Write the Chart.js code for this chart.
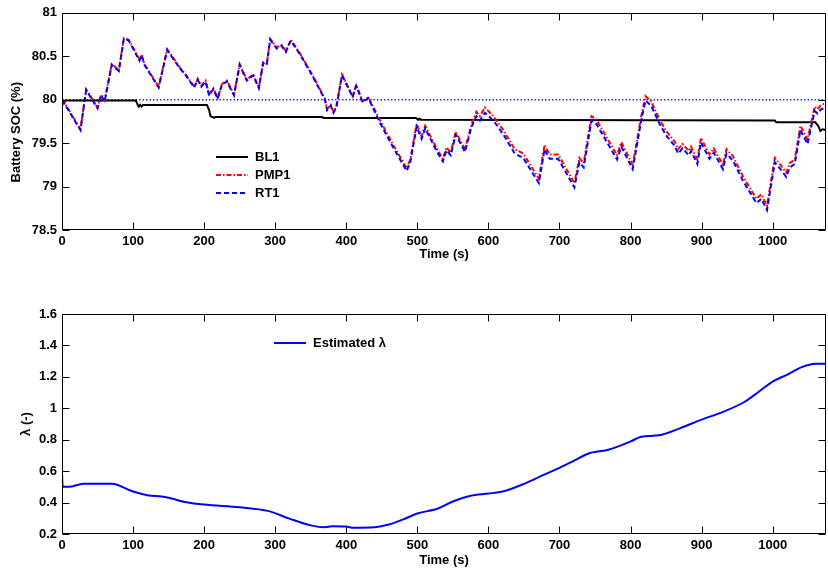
<!DOCTYPE html>
<html>
<head>
<meta charset="utf-8">
<script src="https://cdn.jsdelivr.net/npm/chart.js@4/dist/chart.umd.min.js"></script>
<style>
  body { margin: 0; background: #fff; }
  #wrap { position: relative; width: 828px; height: 572px; }
  #soc-canvas { position: absolute; left: 0; top: 0; }
  #lambda-canvas { position: absolute; left: 0; top: 290px; }
</style>
</head>
<body>
<div id="wrap">
  <canvas id="soc-canvas" width="828" height="290"></canvas>
  <canvas id="lambda-canvas" width="828" height="282"></canvas>
</div>
<script>
//------------------------ DATA ----------------------------

// Time axis shared by PMP1 and RT1 (s)
const timeFast = [0, 26, 34, 50, 55, 60, 70, 80, 87, 94, 109, 112, 116, 136, 148, 166, 175, 186, 191, 196,
  202, 207, 213, 219, 225, 232, 242, 250, 260, 269, 277, 283, 288, 293, 302, 309, 315, 322, 335, 352,
  370, 373, 378, 382, 386, 394, 409, 414, 423, 431, 447, 466, 485, 490, 499, 506, 511, 527, 536, 541,
  547, 554, 567, 576, 583, 588, 595, 607, 621, 637, 649, 671, 679, 686, 698, 703, 721, 728, 734, 745,
  752, 781, 787, 803, 815, 821, 829, 841, 850, 862, 867, 873, 882, 885, 894, 899, 911, 917, 930, 935,
  944, 958, 977, 984, 992, 1003, 1012, 1019, 1024, 1031, 1039, 1049, 1059, 1063, 1068, 1075];

const socRT1 = [80.00, 79.65, 80.11, 79.90, 80.05, 79.98, 80.40, 80.33, 80.70, 80.68, 80.45, 80.51, 80.40, 80.14, 80.57, 80.36, 80.27, 80.14, 80.23, 80.15,
  80.21, 80.05, 80.12, 80.01, 80.17, 80.21, 80.05, 80.40, 80.22, 80.28, 80.13, 80.42, 80.40, 80.69, 80.59, 80.62, 80.55, 80.68, 80.52, 80.28,
  80.00, 79.88, 79.93, 79.85, 79.91, 80.28, 80.03, 80.16, 79.97, 80.02, 79.74, 79.45, 79.18, 79.28, 79.69, 79.55, 79.67, 79.41, 79.29, 79.42,
  79.36, 79.60, 79.40, 79.68, 79.81, 79.76, 79.85, 79.76, 79.60, 79.38, 79.33, 79.04, 79.43, 79.32, 79.32, 79.25, 78.99, 79.28, 79.22, 79.76,
  79.72, 79.31, 79.46, 79.20, 79.76, 79.99, 79.93, 79.72, 79.59, 79.47, 79.38, 79.44, 79.36, 79.41, 79.26, 79.51, 79.32, 79.39, 79.20, 79.38,
  79.30, 79.07, 78.81, 78.86, 78.73, 79.28, 79.19, 79.11, 79.22, 79.26, 79.65, 79.49, 79.87, 79.84, 79.89, 79.91];

const socPMP1 = [80.01, 79.66, 80.12, 79.91, 80.06, 79.99, 80.41, 80.34, 80.71, 80.69, 80.46, 80.52, 80.41, 80.15, 80.58, 80.37, 80.28, 80.15, 80.24, 80.16,
  80.22, 80.06, 80.13, 80.02, 80.18, 80.22, 80.06, 80.41, 80.23, 80.29, 80.14, 80.43, 80.41, 80.70, 80.60, 80.63, 80.56, 80.69, 80.53, 80.29,
  80.01, 79.89, 79.94, 79.86, 79.92, 80.29, 80.04, 80.17, 79.98, 80.03, 79.77, 79.48, 79.21, 79.31, 79.72, 79.58, 79.70, 79.44, 79.32, 79.45,
  79.39, 79.63, 79.43, 79.71, 79.86, 79.81, 79.91, 79.81, 79.65, 79.43, 79.38, 79.09, 79.48, 79.37, 79.37, 79.30, 79.04, 79.33, 79.27, 79.81,
  79.77, 79.36, 79.51, 79.25, 79.81, 80.04, 79.98, 79.77, 79.64, 79.52, 79.43, 79.49, 79.41, 79.46, 79.31, 79.56, 79.37, 79.44, 79.25, 79.43,
  79.35, 79.12, 78.86, 78.91, 78.78, 79.33, 79.24, 79.16, 79.27, 79.31, 79.70, 79.54, 79.92, 79.89, 79.94, 79.96];

// Baseline BL1 (steps)
const timeBL1 = [0, 2, 3, 5, 104, 106, 108, 110, 112, 114, 204, 207, 209, 212, 214, 216, 218, 366, 368, 498,
  501, 503, 505, 1003, 1005, 1060, 1064, 1067, 1070, 1075];
const socBL1 = [79.99, 79.99, 79.96, 79.99, 79.99, 79.95, 79.92, 79.94, 79.92, 79.94, 79.94, 79.88, 79.81, 79.80, 79.79, 79.80, 79.80, 79.80, 79.79, 79.79,
  79.77, 79.78, 79.77, 79.76, 79.74, 79.74, 79.70, 79.64, 79.66, 79.65];

// Target SOC line
const timeRef = [0, 1075];
const socRef = [80, 80];

// Estimated lambda
const timeLambda = [0, 1, 10, 30, 70, 100, 120, 145, 175, 200, 250, 290, 320, 350, 370, 380, 400, 410, 440, 460,
  480, 500, 530, 550, 575, 600, 620, 650, 680, 700, 720, 740, 770, 800, 815, 840, 870, 900, 930, 960,
  980, 1000, 1020, 1040, 1060, 1075];
const lambdaEst = [0.59, 0.50, 0.50, 0.52, 0.52, 0.47, 0.447, 0.436, 0.402, 0.387, 0.370, 0.347, 0.298, 0.255, 0.243, 0.249, 0.247, 0.240, 0.243, 0.26,
  0.293, 0.33, 0.364, 0.407, 0.443, 0.457, 0.47, 0.519, 0.581, 0.621, 0.666, 0.711, 0.738, 0.789, 0.819, 0.828, 0.874, 0.928, 0.977, 1.04,
  1.104, 1.17, 1.213, 1.26, 1.283, 1.283];

// Tick values
const timeTicks = [0, 100, 200, 300, 400, 500, 600, 700, 800, 900, 1000];
const socTicks = [78.5, 79, 79.5, 80, 80.5, 81];
const lambdaTicks = [0.2, 0.4, 0.6, 0.8, 1, 1.2, 1.4, 1.6];

//------------------------ HELPERS ----------------------------

const FONT = "'Liberation Sans', Arial, sans-serif";
const tickFont = { family: FONT, size: 13, weight: "bold" };
const titleFont = { family: FONT, size: 13, weight: "bold", lineHeight: 1 };

function toPoints(xs, ys) {
  return xs.map((x, i) => ({ x: x, y: ys[i] }));
}

function fmt(v) {
  return String(+v.toFixed(2));
}

// Box round the plot area with inward ticks on all four sides
const matlabFrame = {
  id: "matlabFrame",
  afterDraw(chart) {
    const { ctx, chartArea: a, scales } = chart;
    const L = Math.round(a.left) + 0.5, R = Math.round(a.right) - 0.5;
    const T = Math.round(a.top) + 0.5, B = Math.round(a.bottom) - 0.5;
    const len = 7;
    ctx.save();
    ctx.strokeStyle = "#000";
    ctx.lineWidth = 1;
    ctx.beginPath();
    ctx.rect(L, T, R - L, B - T);
    scales.x.ticks.forEach((t) => {
      const px = Math.round(scales.x.getPixelForValue(t.value)) + 0.5;
      ctx.moveTo(px, B); ctx.lineTo(px, B - len);
      ctx.moveTo(px, T); ctx.lineTo(px, T + len);
    });
    scales.y.ticks.forEach((t) => {
      const py = Math.round(scales.y.getPixelForValue(t.value)) + 0.5;
      ctx.moveTo(L, py); ctx.lineTo(L + len, py);
      ctx.moveTo(R, py); ctx.lineTo(R - len, py);
    });
    ctx.stroke();
    ctx.restore();
  },
};

// Legend drawn inside the plot area, no box
const insideLegend = {
  id: "insideLegend",
  afterDraw(chart, args, opts) {
    const { ctx } = chart;
    opts.items.forEach((idx, i) => {
      const ds = chart.data.datasets[idx];
      const y = opts.y + i * opts.rowGap;
      ctx.save();
      ctx.strokeStyle = ds.borderColor;
      ctx.lineWidth = ds.borderWidth;
      ctx.setLineDash(ds.borderDash || []);
      ctx.beginPath();
      ctx.moveTo(opts.x, y);
      ctx.lineTo(opts.x + opts.lineLength, y);
      ctx.stroke();
      ctx.setLineDash([]);
      ctx.fillStyle = "#000";
      ctx.font = "bold 13px " + FONT;
      ctx.textBaseline = "middle";
      ctx.fillText(ds.label, opts.x + opts.lineLength + opts.gap, y);
      ctx.restore();
    });
  },
};

function xScale(height, titlePad) {
  return {
    type: "linear",
    min: 0,
    max: 1075,
    afterFit(scale) { scale.height = height; },
    afterBuildTicks(scale) { scale.ticks = timeTicks.map((v) => ({ value: v })); },
    grid: { display: false, drawTicks: false },
    border: { display: false },
    ticks: { color: "#000", font: tickFont, padding: 4, autoSkip: false, maxRotation: 0, callback: fmt },
    title: { display: true, text: "Time (s)", color: "#000", font: titleFont, padding: { top: 0, bottom: titlePad } },
  };
}

function yScale(min, max, tickList, title, titlePad) {
  return {
    min: min,
    max: max,
    afterFit(scale) { scale.width = 62; },
    afterBuildTicks(scale) { scale.ticks = tickList.map((v) => ({ value: v })); },
    grid: { display: false, drawTicks: false },
    border: { display: false },
    ticks: { color: "#000", font: tickFont, padding: 5, callback: fmt },
    title: { display: true, text: title, color: "#000", font: titleFont, padding: { top: titlePad, bottom: 0 } },
  };
}

//------------------------ TOP CHART: BATTERY SOC ----------------------------

new Chart(document.getElementById("soc-canvas").getContext("2d"), {
  type: "line",
  data: {
    datasets: [
      {
        label: "BL1",
        data: toPoints(timeBL1, socBL1),
        borderColor: "#000",
        borderWidth: 2,
        order: 2,
      },
      {
        label: "PMP1",
        data: toPoints(timeFast, socPMP1),
        borderColor: "#ff0000",
        borderWidth: 2,
        borderDash: [5, 2, 1.5, 2],
        order: 1,
      },
      {
        label: "RT1",
        data: toPoints(timeFast, socRT1),
        borderColor: "#0000ff",
        borderWidth: 2,
        borderDash: [5, 3],
        order: 0,
      },
      {
        label: "Target",
        data: toPoints(timeRef, socRef),
        borderColor: "#2b2bb8",
        borderWidth: 1.5,
        borderDash: [1.5, 2],
        order: 3,
      },
    ],
  },
  options: {
    responsive: false,
    animation: false,
    elements: { point: { radius: 0 }, line: { tension: 0, fill: false } },
    layout: { padding: { top: 11, right: 2, left: 0, bottom: 0 } },
    plugins: {
      legend: { display: false },
      tooltip: { enabled: false },
      insideLegend: { items: [0, 1, 2], x: 216, y: 157, rowGap: 18, lineLength: 32, gap: 7 },
    },
    scales: {
      x: xScale(60, 29.5),
      // trailing spaces push the rotated label down a little, as in the original
      y: yScale(78.5, 81, socTicks, "Battery SOC (%)\u00a0\u00a0\u00a0\u00a0\u00a0\u00a0", 10),
    },
  },
  plugins: [matlabFrame, insideLegend],
});

//------------------------ BOTTOM CHART: LAMBDA ----------------------------

new Chart(document.getElementById("lambda-canvas").getContext("2d"), {
  type: "line",
  data: {
    datasets: [
      {
        label: "Estimated \u03bb",
        data: toPoints(timeLambda, lambdaEst),
        borderColor: "#0000ff",
        borderWidth: 2,
        cubicInterpolationMode: "monotone",
      },
    ],
  },
  options: {
    responsive: false,
    animation: false,
    elements: { point: { radius: 0 }, line: { fill: false } },
    layout: { padding: { top: 24, right: 2, left: 0, bottom: 0 } },
    plugins: {
      legend: { display: false },
      tooltip: { enabled: false },
      insideLegend: { items: [0], x: 274, y: 53, rowGap: 18, lineLength: 32, gap: 7 },
    },
    scales: {
      x: xScale(38, 5),
      y: yScale(0.2, 1.6, lambdaTicks, "\u03bb (-)", 20),
    },
  },
  plugins: [matlabFrame, insideLegend],
});
</script>
</body>
</html>
